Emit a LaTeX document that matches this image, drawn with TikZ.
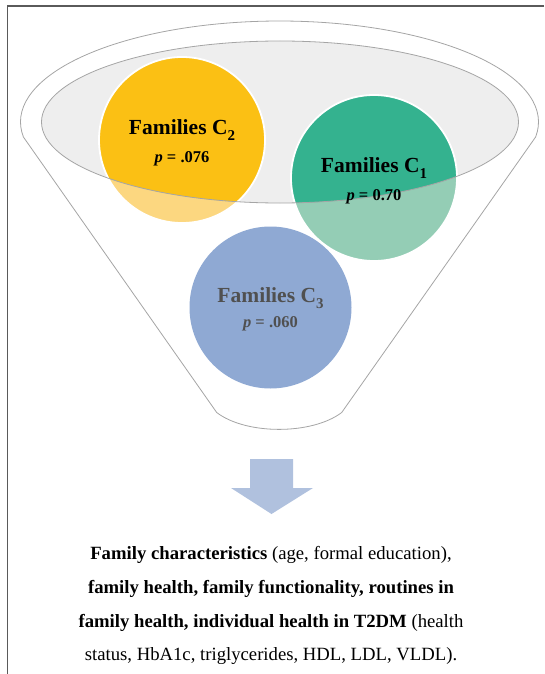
\documentclass[tikz,border=0pt]{standalone}
\usepackage{fontspec}
\setmainfont{Liberation Serif}
\definecolor{cyel}{RGB}{251,192,20}
\definecolor{cyell}{RGB}{252,215,128}
\definecolor{cgrn}{RGB}{52,178,143}
\definecolor{cgrnl}{RGB}{148,205,181}
\definecolor{cblu}{RGB}{143,169,211}
\definecolor{carr}{RGB}{176,193,222}
\definecolor{cell}{RGB}{238,238,238}
\definecolor{cline}{RGB}{165,165,165}
\definecolor{cframe}{RGB}{90,90,90}
\definecolor{cdark}{RGB}{80,80,80}
\newcommand\lowsub[1]{\raisebox{-0.28em}{\fontsize{15}{15}\selectfont #1}}
\begin{document}
\begin{tikzpicture}[x=1pt,y=-1pt,
  funnelline/.style={draw=cline, line width=0.8pt},
  famtext/.style={font=\fontsize{21.5}{24}\selectfont\bfseries, anchor=base, inner sep=0pt},
  ptext/.style={font=\fontsize{16.5}{18}\selectfont\bfseries, anchor=base, inner sep=0pt},
  bottomtext/.style={font=\fontsize{18.7}{22}\selectfont, anchor=base, inner sep=0pt}]
\useasboundingbox (0,0) rectangle (544,674);
% funnel outline
\coordinate (fl) at (23.4,137);
\coordinate (fr) at (535.6,137);
\coordinate (bl) at (216.7,412.5);
\coordinate (br) at (341.7,412.5);
\filldraw[funnelline, fill=white] (fl) arc[start angle=171.46, end angle=368.54, x radius=259, y radius=101]
  -- (br) .. controls (312,435) and (246,435) .. (bl) -- cycle;
% inner ellipse fill
\fill[cell] (280,122) ellipse[x radius=238.5, y radius=81];
% circle C2
\fill[cyell] (182,140) circle[radius=83];
\begin{scope}
  \clip (280,122) ellipse[x radius=238.5, y radius=81];
  \fill[cyel] (182,140) circle[radius=83];
\end{scope}
\draw[white, line width=1.8pt] (182,140) circle[radius=83];
% circle C1
\fill[cgrnl] (374,178) circle[radius=83];
\begin{scope}
  \clip (280,122) ellipse[x radius=238.5, y radius=81];
  \fill[cgrn] (374,178) circle[radius=83];
\end{scope}
\draw[white, line width=1.8pt] (374,178) circle[radius=83];
% circle C3
\fill[cblu] (270.5,307.5) circle[radius=81];
% inner ellipse outline
\draw[funnelline] (280,122) ellipse[x radius=238.5, y radius=81];
% texts in circles
\node[famtext] (c2a) at (182,134.6) {Families C\lowsub{2}};
\node[ptext] (c2b) at (182,162.4) {\textit{p} = .076};
\node[famtext] (c1a) at (374,172.5) {Families C\lowsub{1}};
\node[ptext] (c1b) at (374,200.6) {\textit{p} = 0.70};
\node[famtext, text=cdark] (c3a) at (270.5,302) {Families C\lowsub{3}};
\node[ptext, text=cdark] (c3b) at (270.5,327) {\textit{p} = .060};
% arrow
\fill[carr] (250,459) -- (293,459) -- (293,488) -- (313,488) -- (271.5,514) -- (231,488) -- (250,488) -- cycle;
% bottom text
\node[bottomtext] (t1) at (271,559) {\textbf{Family characteristics} (age, formal education),};
\node[bottomtext] (t2) at (271,593) {\textbf{family health, family functionality, routines in}};
\node[bottomtext] (t3) at (271,627) {\textbf{family health, individual health in T2DM} (health};
\node[bottomtext] (t4) at (271,660) {status, HbA1c, triglycerides, HDL, LDL, VLDL).};
% frame
\draw[cframe, line width=1.6pt] (544,6) -- (7.5,6) -- (7.5,674);
\end{tikzpicture}
\end{document}
